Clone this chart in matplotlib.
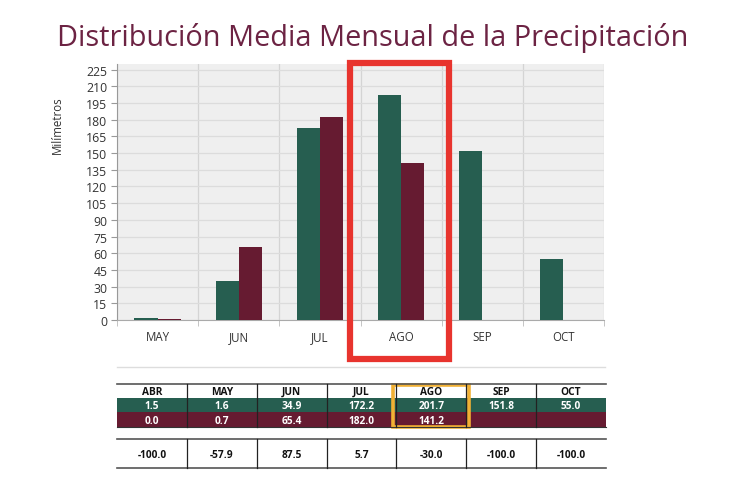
import matplotlib
matplotlib.use("Agg")
import matplotlib.pyplot as plt
from matplotlib.patches import Rectangle
import numpy as np

plt.rcParams['font.family'] = ['Open Sans', 'DejaVu Sans']

# ---- data ----
chart_months = ["MAY", "JUN", "JUL", "AGO", "SEP", "OCT"]
green_vals = [1.6, 34.9, 172.2, 201.7, 151.8, 55.0]
red_vals = [0.7, 65.4, 182.0, 141.2, 0.0, 0.0]

table_months = ["ABR", "MAY", "JUN", "JUL", "AGO", "SEP", "OCT"]
table_green = ["1.5", "1.6", "34.9", "172.2", "201.7", "151.8", "55.0"]
table_red = ["0.0", "0.7", "65.4", "182.0", "141.2", "", ""]
table_diff = ["-100.0", "-57.9", "87.5", "5.7", "-30.0", "-100.0", "-100.0"]

yticks = list(range(0, 226, 15))
title = "Distribución Media Mensual de la Precipitación"
ylabel = "Milímetros"

GREEN = "#265e50"
RED = "#661b31"
TITLE_C = "#6c2343"

W, H = 732, 489
fig = plt.figure(figsize=(W / 100, H / 100), dpi=100)

def fx(px):
    return px / W

def fy(py):
    return 1 - py / H

# ---- chart axes ----
ax = fig.add_axes([fx(117), fy(321), fx(604) - fx(117), fy(65) - fy(321)])
ax.set_facecolor("#efefef")
x = np.arange(len(chart_months))
bw = 0.285
ax.bar(x - bw / 2, green_vals, bw, color=GREEN, zorder=3)
ax.bar(x + bw / 2, red_vals, bw, color=RED, zorder=3)
ax.set_ylim(0, 230)
ax.set_xlim(-0.44, len(chart_months) - 0.5)
ax.set_yticks(yticks)
ax.set_yticklabels([str(v) for v in yticks], fontsize=8.8, color="#333333")
ax.set_xticks(x)
ax.set_xticklabels(chart_months, fontsize=8.3, color="#333333")
ax.tick_params(axis="x", length=0, pad=7)
ax.tick_params(axis="y", length=4, color="#999999", pad=3)
ax.set_xticks(np.arange(len(chart_months) + 1) - 0.5, minor=True)
ax.tick_params(axis="x", which="minor", length=4, color="#bbbbbb")
ax.grid(axis="y", color="#dcdcdc", linewidth=0.9, zorder=0)
ax.grid(axis="x", which="minor", color="#d4d4d4", linewidth=0.9, zorder=0)
ax.grid(axis="x", which="major", visible=False)
for s in ["top", "right"]:
    ax.spines[s].set_visible(False)
ax.spines["left"].set_color("#999999")
ax.spines["bottom"].set_color("#aaaaaa")

# ---- overlay in pixel coordinates ----
ov = fig.add_axes([0, 0, 1, 1])
ov.set_xlim(0, W)
ov.set_ylim(H, 0)
ov.axis("off")

ov.text(373, 38, title, ha="center", va="center", fontsize=20.8, color=TITLE_C)
ov.text(57, 125, ylabel, ha="center", va="center", rotation=90, fontsize=8.3, color="#333333")

# red highlight box
ov.add_patch(Rectangle((350, 64), 99, 296, fill=False, edgecolor="#e8342e", linewidth=4.5))

# separator line
ov.plot([117, 605], [368, 368], color="#dddddd", linewidth=1)

# table
left, right = 117, 606
ncol = len(table_months)
cw = (right - left) / ncol
r_head, r_g, r_r, r_end = 385, 399, 413, 428
b_top, b_bot = 440, 469
ov.add_patch(Rectangle((left, r_g), right - left, r_r - r_g, color=GREEN, linewidth=0))
ov.add_patch(Rectangle((left, r_r), right - left, r_end - r_r, color=RED, linewidth=0))
ov.plot([left, right], [r_head, r_head], color="#555555", linewidth=1.2)
ov.plot([left, right], [r_end, r_end], color="#333333", linewidth=0.8)
ov.plot([left, right], [b_top, b_top], color="#555555", linewidth=1.2)
ov.plot([left, right], [b_bot, b_bot], color="#555555", linewidth=1.2)
for i in range(1, ncol):
    xx = left + i * cw
    ov.plot([xx, xx], [r_head, r_end], color="#222222", linewidth=0.9)
    ov.plot([xx, xx], [b_top, b_bot], color="#222222", linewidth=0.9)
for i in range(ncol):
    cx = left + (i + 0.5) * cw
    ov.text(cx, (r_head + r_g) / 2 + 0.5, table_months[i], ha="center", va="center",
            fontsize=7.3, fontweight="bold", color="#111111")
    ov.text(cx, (r_g + r_r) / 2 + 0.5, table_green[i], ha="center", va="center",
            fontsize=7.3, fontweight="bold", color="white")
    ov.text(cx, (r_r + r_end) / 2 + 0.5, table_red[i], ha="center", va="center",
            fontsize=7.3, fontweight="bold", color="white")
    ov.text(cx, (b_top + b_bot) / 2 + 0.5, table_diff[i], ha="center", va="center",
            fontsize=7.3, fontweight="bold", color="#111111")

# orange highlight box
ov.add_patch(Rectangle((393, 386), 76, 42, fill=False, edgecolor="#f2b134", linewidth=2.6))

fig.savefig("out.png", dpi=100)
